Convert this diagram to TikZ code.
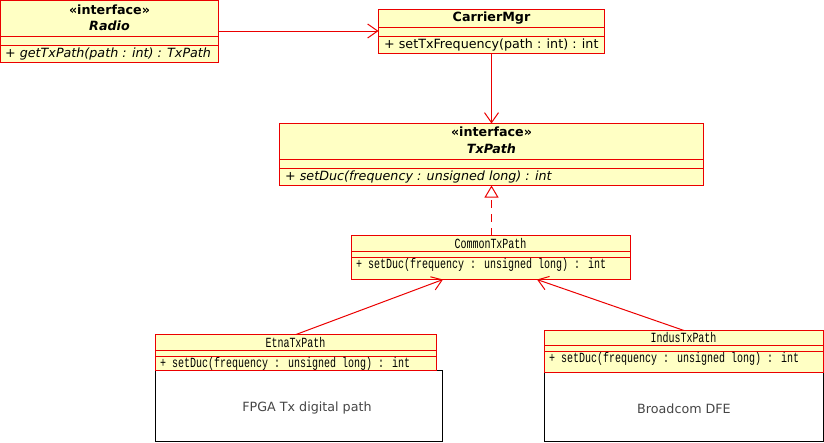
\documentclass[tikz,border=0pt]{standalone}
\usepackage{fontspec}
\setmainfont{DejaVu Sans}
\newfontfamily\dv{DejaVu Sans}
\newfontfamily\sm[FakeStretch=0.714]{Liberation Mono}
\usetikzlibrary{arrows.meta,positioning}
\definecolor{umlfill}{RGB}{255,255,196}
\definecolor{umlred}{RGB}{235,0,0}
\definecolor{graytext}{RGB}{70,70,70}
\tikzset{
  umlbox/.style={draw=umlred, fill=umlfill, line width=1pt, anchor=north west, inner sep=0pt, outer sep=0pt},
  plainbox/.style={draw=black, fill=white, line width=1pt, anchor=north west, inner sep=0pt, outer sep=0pt},
  sep/.style={draw=umlred, line width=1pt},
  nm/.style={font=\dv\bfseries\fontsize{12.7}{15}\selectfont, inner sep=0pt},
  nmi/.style={font=\dv\bfseries\itshape\fontsize{12.7}{15}\selectfont, inner sep=0pt},
  op/.style={font=\dv\fontsize{12.7}{15}\selectfont, anchor=west, inner sep=0pt},
  opi/.style={font=\dv\itshape\fontsize{12.7}{15}\selectfont, anchor=west, inner sep=0pt},
  snm/.style={font=\sm\fontsize{14}{16}\selectfont, inner sep=0pt},
  sop/.style={font=\sm\fontsize{14}{16}\selectfont, anchor=west, inner sep=0pt},
  note/.style={font=\dv\fontsize{12.7}{15}\selectfont, text=graytext, inner sep=0pt},
  assoc/.style={draw=umlred, line width=1pt, -{Straight Barb[length=10pt,width=14pt,line width=1pt]}},
  realize/.style={draw=umlred, line width=1pt, dash pattern=on 8pt off 6pt, -{Triangle[open,length=12pt,width=14pt,line width=1pt,fill=white]}}
}
\begin{document}
\begin{tikzpicture}[x=1pt,y=-1pt]
\useasboundingbox (0,0) rectangle (824,442);
% Radio
\node[umlbox, minimum width=218pt, minimum height=62pt] (radio) at (0.5,0.5) {};
\draw[sep] (0.5,36.5) -- (218.5,36.5);
\draw[sep] (0.5,45.5) -- (218.5,45.5);
\node[nm] (radiost) at (109.5,9.5) {«interface»};
\node[nmi] (radionm) at (109.5,25.5) {Radio};
\node[opi] (radioop) at (5,54) {+ getTxPath(path : int) : TxPath};
% CarrierMgr
\node[umlbox, minimum width=226pt, minimum height=44pt] (cm) at (378.5,9.5) {};
\draw[sep] (378.5,27.5) -- (604.5,27.5);
\draw[sep] (378.5,36.5) -- (604.5,36.5);
\node[nm] (cmnm) at (491.5,18.5) {CarrierMgr};
\node[op] (cmop) at (384,45) {+ setTxFrequency(path : int) : int};
% TxPath
\node[umlbox, minimum width=424pt, minimum height=62pt] (tx) at (279.5,123.5) {};
\draw[sep] (279.5,159.5) -- (703.5,159.5);
\draw[sep] (279.5,168.5) -- (703.5,168.5);
\node[nm] (txst) at (491.5,132) {«interface»};
\node[nmi] (txnm) at (491.5,148.5) {TxPath};
\node[opi] (txop) at (285,177) {+ setDuc(frequency : unsigned long) : int};
% CommonTxPath
\node[umlbox, minimum width=279pt, minimum height=44pt] (ctp) at (351.5,235.5) {};
\draw[sep] (351.5,251.5) -- (630.5,251.5);
\draw[sep] (351.5,257.5) -- (630.5,257.5);
\node[snm] (ctpnm) at (490.5,243.5) {CommonTxPath};
\node[sop] (ctpop) at (356,265) {+ setDuc(frequency : unsigned long) : int};
% EtnaTxPath
\node[plainbox, minimum width=287pt, minimum height=71pt] (fpga) at (155.5,370.5) {};
\node[note] (fpgatx) at (307,408) {FPGA Tx digital path};
\node[umlbox, minimum width=281pt, minimum height=36pt] (etna) at (155.5,334.5) {};
\draw[sep] (155.5,350.5) -- (436.5,350.5);
\draw[sep] (155.5,356.5) -- (436.5,356.5);
\node[snm] (etnanm) at (295.5,342.5) {EtnaTxPath};
\node[sop] (etnaop) at (160,364) {+ setDuc(frequency : unsigned long) : int};
% IndusTxPath
\node[plainbox, minimum width=279pt, minimum height=69pt] (bdfe) at (544.5,372.5) {};
\node[note] (bdfetx) at (684,409) {Broadcom DFE};
\node[umlbox, minimum width=279pt, minimum height=42pt] (indus) at (544.5,330.5) {};
\draw[sep] (544.5,345.5) -- (823.5,345.5);
\draw[sep] (544.5,351.5) -- (823.5,351.5);
\node[snm] (indusnm) at (683.5,338) {IndusTxPath};
\node[sop] (indusop) at (549,358.5) {+ setDuc(frequency : unsigned long) : int};
% connectors
\coordinate (radioR) at (218.5,31);
\coordinate (cmL) at (378.5,31);
\draw[assoc] (radioR) -- (cmL);
\coordinate (cmB) at (491.5,53.5);
\coordinate (txT) at (491.5,123.5);
\draw[assoc] (cmB) -- (txT);
\coordinate (ctpT) at (491.5,235.5);
\coordinate (txB) at (491.5,185.5);
\draw[realize] (ctpT) -- (txB);
\coordinate (etnaT) at (296,334.5);
\coordinate (ctpBL) at (443,279.5);
\draw[assoc] (etnaT) -- (ctpBL);
\coordinate (indusT) at (684,330.5);
\coordinate (ctpBR) at (537,279.5);
\draw[assoc] (indusT) -- (ctpBR);
\end{tikzpicture}
\end{document}
